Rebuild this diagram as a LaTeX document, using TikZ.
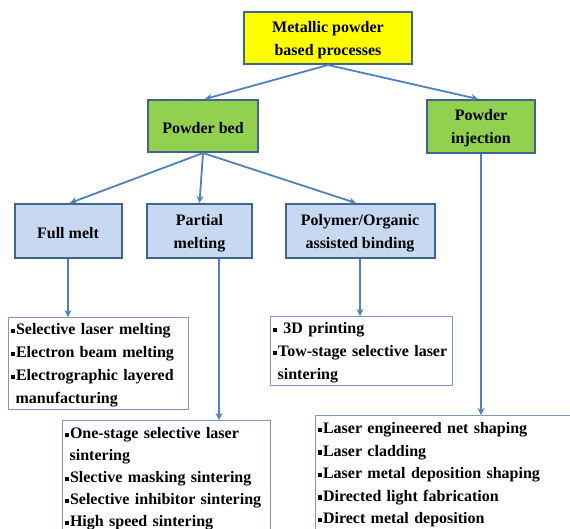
\documentclass[tikz,border=0pt]{standalone}
\usepackage{fontspec}
\setmainfont{Liberation Serif}
\usetikzlibrary{arrows.meta,calc}
\definecolor{bordc}{HTML}{41648F}
\definecolor{listc}{HTML}{7E97BB}
\definecolor{arrc}{HTML}{4F81BD}
\definecolor{yelc}{HTML}{FFFF00}
\definecolor{grnc}{HTML}{92D050}
\definecolor{bluc}{HTML}{C6D9F1}
\newcommand\sqb{\rule[0.22ex]{4.4pt}{4.4pt}\hspace{1pt}}
\newcommand\tstrut{\rule{0pt}{15pt}}
\newcommand\lstrut{\rule{0pt}{15pt}}
\begin{document}
\begin{tikzpicture}[x=1pt,y=-1pt,
  every node/.style={font=\fontsize{16}{23}\selectfont\bfseries},
  catbox/.style={draw=bordc,line width=2pt,align=center,inner sep=0pt},
  listbox/.style={draw=listc,line width=1.3pt,fill=white,align=left,anchor=north west,inner xsep=2pt,inner ysep=2pt},
  arr/.style={draw=arrc,line width=1.8pt,-{Stealth[length=7pt,width=7pt]}}]
\useasboundingbox (0,0) rectangle (570,528);
\clip (0,0) rectangle (570,528);
% category boxes
\node[catbox,fill=yelc,minimum width=168pt,minimum height=52pt] (top) at (328,38) {\tstrut Metallic powder\\based processes};
\node[catbox,fill=grnc,minimum width=110pt,minimum height=52pt] (pb) at (203,126) {\tstrut Powder bed};
\node[catbox,fill=grnc,minimum width=108pt,minimum height=53pt] (pi) at (481,126.5) {\tstrut Powder\\injection};
\node[catbox,fill=bluc,minimum width=107pt,minimum height=54pt] (fm) at (68,231) {\tstrut Full melt};
\node[catbox,fill=bluc,minimum width=105pt,minimum height=54pt] (pm) at (199.5,231) {\tstrut Partial\\melting};
\node[catbox,fill=bluc,minimum width=149pt,minimum height=54pt] (po) at (360,231) {\tstrut Polymer/Organic\\assisted binding};
% list boxes
\node[listbox,text width=176pt] (l1) at (8,317) {\lstrut\sqb Selective laser melting\\\sqb Electron beam melting\\\sqb Electrographic layered\\\hspace*{5pt}manufacturing};
\node[listbox,text width=178pt] (l2) at (270,316) {\lstrut\sqb\ 3D printing\\\mbox{\sqb Tow-stage selective laser}\\\hspace*{5pt}sintering};
\node[listbox,text width=204pt,font=\fontsize{16}{22}\selectfont\bfseries] (l3) at (62,420) {\rule{0pt}{16pt}\sqb One-stage selective laser\\\hspace*{5pt}sintering\\\sqb Slective masking sintering\\\sqb Selective inhibitor sintering\\\sqb High speed sintering\\\phantom{x}};
\node[listbox,text width=256pt,font=\fontsize{16}{22.5}\selectfont\bfseries] (l4) at (315,415) {\rule{0pt}{16pt}\sqb Laser engineered net shaping\\\sqb Laser cladding\\\sqb Laser metal deposition shaping\\\sqb Directed light fabrication\\\sqb Direct metal deposition\\\phantom{x}};
% connectors
\draw[arr] (top.south) -- ([xshift=2pt]pb.north);
\draw[arr] (top.south) -- ([xshift=-3pt]pi.north);
\draw[arr] (pb.south) -- ([xshift=2pt]fm.north);
\draw[arr] (pb.south) -- (pm.north);
\draw[arr] (pb.south) -- ([xshift=-4pt]po.north);
\draw[arr] (fm.south) -- (fm.south |- l1.north);
\draw[arr] ([xshift=19.5pt]pm.south) -- ([xshift=19.5pt]pm.south |- l3.north);
\draw[arr] (po.south) -- (po.south |- l2.north);
\draw[arr] (pi.south) -- (pi.south |- l4.north);
\end{tikzpicture}
\end{document}
